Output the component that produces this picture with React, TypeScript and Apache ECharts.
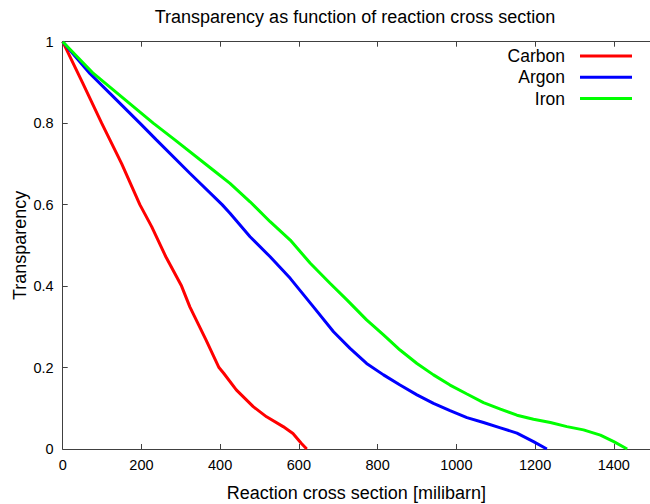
import React, { useEffect, useRef } from "react";
import * as echarts from "echarts";

const titleText = "Transparency as function of reaction cross section";
const xAxisTitle = "Reaction cross section [milibarn]";
const yAxisTitle = "Transparency";
const xTicks = [0, 200, 400, 600, 800, 1000, 1200, 1400];
const yTicks = [0, 0.2, 0.4, 0.6, 0.8, 1];

const seriesNames = ["Carbon", "Argon", "Iron"];
const seriesColors = ["#ff0000", "#0000ff", "#00ff00"];

const carbonX = [0, 50, 99, 150, 196, 226, 262, 302, 323, 364, 397, 409, 441, 484, 518, 560, 585, 606, 620];
const carbonY = [1, 0.9, 0.8, 0.7, 0.6, 0.546, 0.472, 0.4, 0.349, 0.268, 0.2, 0.186, 0.145, 0.104, 0.079, 0.055, 0.038, 0.014, 0];

const argonX = [0, 69, 120, 196, 238, 323, 405, 425, 476, 527, 578, 637, 688, 730, 772, 815, 857, 900, 942, 984, 1027, 1069, 1112, 1154, 1196, 1230];
const argonY = [1, 0.922, 0.873, 0.8, 0.759, 0.677, 0.6, 0.579, 0.521, 0.472, 0.419, 0.349, 0.288, 0.247, 0.21, 0.182, 0.157, 0.133, 0.112, 0.094, 0.077, 0.065, 0.052, 0.039, 0.018, 0];

const ironX = [0, 78, 230, 285, 382, 425, 476, 527, 578, 629, 679, 722, 772, 815, 857, 900, 942, 984, 1027, 1069, 1112, 1154, 1196, 1239, 1281, 1323, 1366, 1400, 1434];
const ironY = [1, 0.922, 0.8, 0.759, 0.685, 0.652, 0.607, 0.558, 0.513, 0.456, 0.407, 0.366, 0.317, 0.28, 0.243, 0.21, 0.182, 0.157, 0.135, 0.114, 0.098, 0.083, 0.073, 0.065, 0.055, 0.047, 0.034, 0.018, 0];

const seriesX = [carbonX, argonX, ironX];
const seriesY = [carbonY, argonY, ironY];

const FONT = "Liberation Sans, Arial, sans-serif";

export default function App() {
  const ref = useRef<HTMLDivElement>(null);
  useEffect(() => {
    if (!ref.current) return;
    const chart = echarts.init(ref.current, undefined, { renderer: "svg" });
    const axisColor = "#404040";
    const xMax = 1492;
    const legendGraphics: any[] = [];
    seriesNames.forEach((name, i) => {
      const y = 56 + i * 21.3;
      legendGraphics.push({
        type: "text",
        x: 565,
        y,
        style: { text: name, fill: "#000", font: `17.5px ${FONT}`, textAlign: "right", textVerticalAlign: "middle" },
      });
      legendGraphics.push({
        type: "line",
        shape: { x1: 580, y1: y, x2: 632, y2: y },
        style: { stroke: seriesColors[i], lineWidth: 3 },
      });
    });
    chart.setOption({
      animation: false,
      backgroundColor: "#fff",
      grid: { left: 62.7, right: 0, top: 41.7, bottom: 55, containLabel: false, outerBoundsMode: "none" },
      graphic: [
        {
          type: "text",
          x: 355,
          y: 17,
          style: { text: titleText, fill: "#000", font: `18px ${FONT}`, textAlign: "center", textVerticalAlign: "middle" },
        },
        ...legendGraphics,
      ],
      xAxis: [
        {
          type: "value",
          position: "bottom",
          min: 0,
          max: xMax,
          interval: 200,
          name: xAxisTitle,
          nameLocation: "middle",
          nameGap: 35,
          nameMoveOverlap: false,
          nameTextStyle: { fontSize: 18, color: "#000", fontFamily: FONT },
          axisLine: { show: true, lineStyle: { color: axisColor, width: 1 } },
          axisTick: { show: true, inside: true, length: 5, customValues: xTicks, lineStyle: { color: axisColor } },
          axisLabel: {
            customValues: xTicks,
            fontSize: 14.5,
            color: "#000",
            fontFamily: FONT,
            margin: 8,
            formatter: (v: number) => (xTicks.includes(v) ? String(v) : ""),
          },
          splitLine: { show: false },
        },
        {
          type: "value",
          position: "top",
          min: 0,
          max: xMax,
          interval: 200,
          axisLine: { show: true, lineStyle: { color: axisColor, width: 1 } },
          axisTick: { show: true, inside: true, length: 5, customValues: xTicks, lineStyle: { color: axisColor } },
          axisLabel: { show: false },
          splitLine: { show: false },
        },
      ],
      yAxis: {
        type: "value",
        min: 0,
        max: 1,
        interval: 0.2,
        name: yAxisTitle,
        nameLocation: "middle",
        nameGap: 34,
        nameMoveOverlap: false,
        nameTextStyle: { fontSize: 18, color: "#000", fontFamily: FONT },
        axisLine: { show: true, lineStyle: { color: axisColor, width: 1 } },
        axisTick: { show: true, inside: true, length: 5, lineStyle: { color: axisColor } },
        axisLabel: {
          fontSize: 14.5,
          color: "#000",
          fontFamily: FONT,
          margin: 9,
          formatter: (v: number) => (yTicks.some((t) => Math.abs(t - v) < 1e-9) ? String(+v.toFixed(1)) : ""),
        },
        splitLine: { show: false },
      },
      series: seriesNames.map((name, i) => ({
        name,
        type: "line",
        xAxisIndex: 0,
        showSymbol: false,
        symbol: "none",
        data: seriesX[i].map((x, j) => [x, seriesY[i][j]]),
        lineStyle: { color: seriesColors[i], width: 3 },
        itemStyle: { color: seriesColors[i] },
      })),
    });
    return () => chart.dispose();
  }, []);
  return (
    <div
      ref={ref}
      style={{ position: "fixed", left: 0, top: 0, width: 650, height: 504, background: "#fff" }}
    />
  );
}
